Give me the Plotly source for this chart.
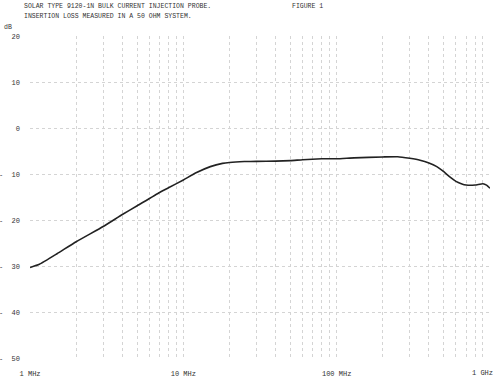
import plotly.graph_objects as go
import math

freq_mhz = [1, 1.15, 1.5, 2, 3, 4, 5, 7, 8, 10, 12, 15, 18, 20, 25, 30, 40, 50, 60, 80, 100,
            130, 200, 250, 300, 350, 400, 450, 500, 550, 600, 650, 700, 800, 900, 950, 1000]
loss_db = [-30.2, -29.5, -27.2, -24.6, -21.3, -18.7, -16.8, -13.9, -12.9, -11.2, -9.7, -8.3, -7.6, -7.4, -7.2, -7.15, -7.1, -7.0, -6.8, -6.6, -6.6,
           -6.4, -6.2, -6.15, -6.5, -6.9, -7.5, -8.3, -9.4, -10.6, -11.5, -12.0, -12.3, -12.3, -12.0, -12.3, -13.0]

x_grid = [m * 10 ** d for d in range(3) for m in range(1, 10)] + [1000]
x_labels = {1: "1 MHz", 10: "10 MHz", 100: "100 MHz"}
x_text = [x_labels.get(v, "") for v in x_grid]
edge_label_freq = 1000
edge_label = "1 GHz"

NB = "\u00a0"
y_vals = [-50, -40, -30, -20, -10, 0, 10, 20]
y_text = ["-" + NB * 2 + "50", "-" + NB * 2 + "40", "-" + NB * 2 + "30", "-" + NB * 2 + "20",
          "-" + NB * 2 + "10", "0", "10", "20"]

title_1 = "SOLAR TYPE 9120-1N BULK CURRENT INJECTION PROBE."
title_2 = "INSERTION LOSS MEASURED IN A 50 OHM SYSTEM."
figure_label = "FIGURE 1"
unit_label = "dB"

FONT = "Liberation Mono"
TXT = "#333"
GRID = "#d4d4d4"

fig = go.Figure()
fig.add_trace(go.Scatter(x=freq_mhz, y=loss_db, mode="lines",
                         line=dict(color="#222", width=1.6, shape="spline", smoothing=0.4),
                         hoverinfo="skip", showlegend=False))

fig.update_layout(
    width=500, height=378,
    margin=dict(l=30, r=10, t=36, b=19),
    paper_bgcolor="white", plot_bgcolor="white",
    font=dict(family=FONT, size=7, color=TXT),
    xaxis=dict(type="log", range=[-0.0003, 3.0003], tickmode="array", tickvals=x_grid, ticktext=x_text,
               showgrid=True, gridcolor=GRID, griddash="dot", gridwidth=1, automargin=False,
               zeroline=False, showline=False, ticks="", ticklabelstandoff=9,
               tickfont=dict(family=FONT, size=7, color=TXT)),
    yaxis=dict(range=[-50.05, 20.05], tickmode="array", tickvals=y_vals, ticktext=y_text,
               showgrid=True, gridcolor=GRID, griddash="dot", gridwidth=1, automargin=False,
               zeroline=False, showline=False, ticks="", ticklabelstandoff=9,
               tickfont=dict(family=FONT, size=7, color=TXT)),
)

def px_x(px):
    return (px - 30) / 460.0

def px_y(py):
    return (359 - py) / 323.0

for text, x, y in [(title_1, 22, 6), (title_2, 22, 17), (figure_label, 290, 6), (unit_label, 2, 28)]:
    fig.add_annotation(text=text, x=px_x(x), y=px_y(y), xref="paper", yref="paper",
                       xanchor="left", yanchor="middle", showarrow=False,
                       font=dict(family=FONT, size=6.5, color=TXT))

fig.add_annotation(text=edge_label, x=math.log10(edge_label_freq), xref="x", y=px_y(373), yref="paper",
                   xanchor="center", yanchor="middle", showarrow=False, xshift=-7,
                   font=dict(family=FONT, size=7, color=TXT))

fig.write_html("out.html")
